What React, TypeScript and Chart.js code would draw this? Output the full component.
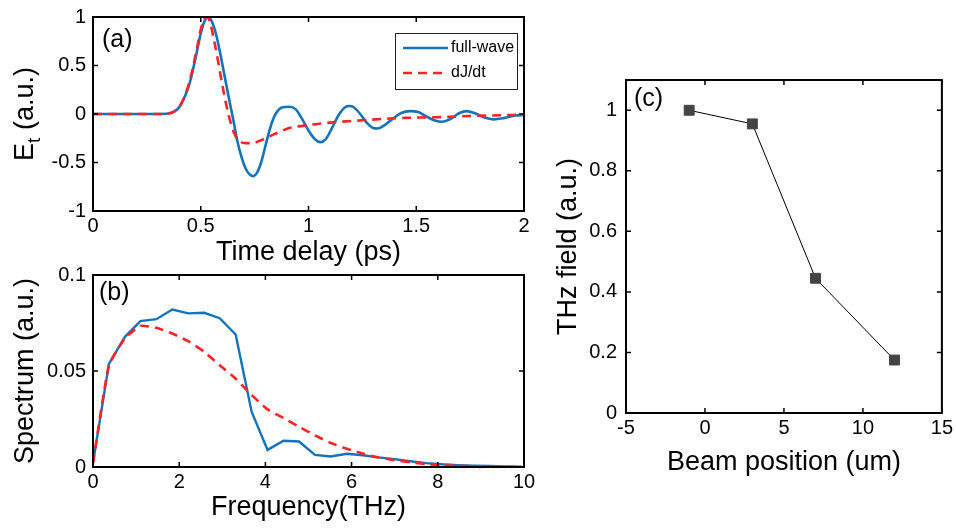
import React, { useEffect, useRef } from "react";
import { Chart, registerables } from "chart.js";

Chart.register(...registerables);

const FONT = "'Liberation Sans', Arial, Helvetica, sans-serif";
const BLUE = "#1373bd";
const RED = "#ff2424";
const TICK_FONT = 20;
const TITLE_FONT = 27;

// ---------- Panel (a): time-domain field ----------
const fullWaveT = [0, 0.1, 0.2, 0.3, 0.35, 0.38, 0.4, 0.43, 0.45, 0.48, 0.5, 0.52, 0.535, 0.55, 0.57, 0.59, 0.61, 0.63, 0.65, 0.67, 0.69, 0.71, 0.73, 0.745, 0.76, 0.78, 0.8, 0.82, 0.84, 0.86, 0.88, 0.91, 0.94, 0.97, 1.0, 1.03, 1.055, 1.08, 1.11, 1.14, 1.17, 1.19, 1.21, 1.24, 1.27, 1.3, 1.32, 1.35, 1.39, 1.43, 1.47, 1.51, 1.55, 1.59, 1.62, 1.66, 1.7, 1.735, 1.77, 1.81, 1.86, 1.91, 1.96, 2.0];
const fullWaveE = [0, 0, 0, 0, 0.005, 0.03, 0.07, 0.2, 0.33, 0.62, 0.83, 0.97, 1.0, 0.96, 0.83, 0.63, 0.4, 0.17, -0.05, -0.28, -0.45, -0.57, -0.63, -0.64, -0.61, -0.5, -0.33, -0.16, -0.03, 0.04, 0.07, 0.075, 0.05, -0.05, -0.17, -0.26, -0.29, -0.26, -0.14, -0.01, 0.07, 0.082, 0.07, 0.0, -0.09, -0.145, -0.15, -0.12, -0.05, 0.01, 0.03, 0.02, -0.03, -0.07, -0.08, -0.05, 0.01, 0.03, 0.01, -0.03, -0.055, -0.04, -0.015, -0.01];
const djdtT = [0, 0.1, 0.2, 0.3, 0.35, 0.38, 0.4, 0.43, 0.45, 0.48, 0.5, 0.52, 0.53, 0.545, 0.56, 0.58, 0.6, 0.62, 0.64, 0.66, 0.68, 0.71, 0.74, 0.78, 0.82, 0.87, 0.92, 0.98, 1.05, 1.15, 1.25, 1.35, 1.45, 1.55, 1.65, 1.75, 1.85, 1.95, 2.0];
const djdtE = [0, 0, 0, 0, 0.005, 0.03, 0.07, 0.21, 0.35, 0.65, 0.87, 0.99, 1.0, 0.93, 0.78, 0.55, 0.3, 0.08, -0.1, -0.22, -0.28, -0.3, -0.3, -0.27, -0.23, -0.18, -0.14, -0.12, -0.1, -0.08, -0.065, -0.05, -0.04, -0.035, -0.03, -0.02, -0.015, -0.01, -0.008];
const aXTicks = [0, 0.5, 1, 1.5, 2];
const aYTicks = [-1, -0.5, 0, 0.5, 1];

// ---------- Panel (b): spectrum ----------
const freqTHz = [0, 0.37, 0.74, 1.1, 1.47, 1.84, 2.21, 2.58, 2.94, 3.31, 3.68, 4.05, 4.42, 4.78, 5.15, 5.52, 5.89, 6.26, 6.62, 6.99, 7.36, 7.73, 8.1, 8.46, 8.83, 9.2, 9.57, 9.94];
const fullWaveSpec = [0.002, 0.0537, 0.0678, 0.076, 0.077, 0.082, 0.08, 0.0803, 0.0775, 0.069, 0.0288, 0.0089, 0.0137, 0.0133, 0.0063, 0.0055, 0.0069, 0.0061, 0.005, 0.0041, 0.003, 0.002, 0.0014, 0.001, 0.0007, 0.0005, 0.0003, 0.0002];
const djdtSpec = [0.002, 0.053, 0.067, 0.0735, 0.0725, 0.0695, 0.0655, 0.06, 0.053, 0.046, 0.0375, 0.03, 0.0255, 0.021, 0.0165, 0.0125, 0.0095, 0.007, 0.005, 0.0035, 0.0025, 0.0015, 0.001, 0.0006, 0.0004, 0.0002, 0.0001, 0.0];
const bXTicks = [0, 2, 4, 6, 8, 10];
const bYTicks = [0, 0.05, 0.1];

// ---------- Panel (c): THz field vs beam position ----------
const beamPos = [-1, 3, 7, 12];
const thzField = [1.0, 0.955, 0.445, 0.175];
const cXTicks = [-5, 0, 5, 10, 15];
const cYTicks = [0, 0.2, 0.4, 0.6, 0.8, 1];

const fmt = (v: number) => String(Math.round(v * 1000) / 1000);

function axis(o: {
  min: number; max: number; ticks: number[]; size: number; horizontal: boolean;
  labelPad: number; title?: string; titlePad?: number;
}) {
  return {
    type: "linear",
    min: o.min,
    max: o.max,
    grid: { display: false, drawTicks: false },
    border: { display: false },
    afterBuildTicks: (s: any) => {
      s.ticks = o.ticks.map((v) => ({ value: v }));
    },
    afterFit: (s: any) => {
      if (o.horizontal) s.height = o.size;
      else s.width = o.size;
    },
    ticks: {
      padding: o.labelPad,
      color: "#000",
      autoSkip: false,
      maxRotation: 0,
      includeBounds: false,
      font: { family: FONT, size: TICK_FONT },
      callback: (v: any) => fmt(Number(v)),
    },
    title: o.title
      ? {
          display: true,
          text: o.title,
          color: "#000",
          font: { family: FONT, size: TITLE_FONT },
          padding: o.horizontal ? { top: 0, bottom: o.titlePad } : { top: o.titlePad, bottom: 0 },
        }
      : { display: false },
  };
}

const framePlugin = (tickLen: number) => ({
  id: "frame",
  afterDatasetsDraw(chart: any) {
    const { ctx, chartArea, scales } = chart;
    const { left, right, top, bottom } = chartArea;
    ctx.save();
    ctx.strokeStyle = "#000";
    ctx.lineWidth = 2;
    ctx.setLineDash([]);
    ctx.strokeRect(left, top, right - left, bottom - top);
    ctx.beginPath();
    ctx.lineWidth = 1.5;
    scales.x.ticks.forEach((t: any) => {
      const px = scales.x.getPixelForValue(t.value);
      ctx.moveTo(px, bottom);
      ctx.lineTo(px, bottom - tickLen);
      ctx.moveTo(px, top);
      ctx.lineTo(px, top + tickLen);
    });
    scales.y.ticks.forEach((t: any) => {
      const py = scales.y.getPixelForValue(t.value);
      ctx.moveTo(left, py);
      ctx.lineTo(left + tickLen, py);
      ctx.moveTo(right, py);
      ctx.lineTo(right - tickLen, py);
    });
    ctx.stroke();
    ctx.restore();
  },
});

const panelLabel = (text: string, dx: number, dy: number) => ({
  id: "panelLabel",
  afterDraw(chart: any) {
    const { ctx, chartArea } = chart;
    ctx.save();
    ctx.fillStyle = "#000";
    ctx.font = `25px ${FONT}`;
    ctx.textBaseline = "alphabetic";
    ctx.textAlign = "left";
    ctx.fillText(text, chartArea.left + dx, chartArea.top + dy);
    ctx.restore();
  },
});

const legendPlugin = {
  id: "legendBox",
  afterDraw(chart: any) {
    const { ctx, chartArea } = chart;
    const bx = chartArea.right - 129;
    const by = chartArea.top + 16;
    const bw = 122;
    const bh = 56;
    ctx.save();
    ctx.fillStyle = "#fff";
    ctx.fillRect(bx, by, bw, bh);
    ctx.strokeStyle = "#222";
    ctx.lineWidth = 1;
    ctx.strokeRect(bx + 0.5, by + 0.5, bw, bh);
    const ds = [...chart.data.datasets].reverse();
    ds.forEach((d: any, i: number) => {
      const y = by + 15 + i * 25;
      ctx.strokeStyle = d.borderColor;
      ctx.lineWidth = 2.6;
      ctx.setLineDash(d.borderDash || []);
      ctx.beginPath();
      ctx.moveTo(bx + 8, y);
      ctx.lineTo(bx + 53, y);
      ctx.stroke();
      ctx.setLineDash([]);
      ctx.fillStyle = "#000";
      ctx.font = `16px ${FONT}`;
      ctx.textBaseline = "middle";
      ctx.textAlign = "left";
      ctx.fillText(d.label, bx + 56, y);
    });
    ctx.restore();
  },
};

const yTitleA = {
  id: "yTitleA",
  afterDraw(chart: any) {
    const { ctx, chartArea } = chart;
    const cy = (chartArea.top + chartArea.bottom) / 2;
    const parts: [string, string, number][] = [
      ["E", `${TITLE_FONT}px ${FONT}`, 0],
      ["t", `19px ${FONT}`, 7],
      [" (a.u.)", `${TITLE_FONT}px ${FONT}`, 0],
    ];
    ctx.save();
    ctx.translate(33, cy);
    ctx.rotate(-Math.PI / 2);
    ctx.fillStyle = "#000";
    ctx.textBaseline = "alphabetic";
    ctx.textAlign = "left";
    let total = 0;
    parts.forEach(([t, f]) => {
      ctx.font = f;
      total += ctx.measureText(t).width;
    });
    let x = -total / 2;
    parts.forEach(([t, f, dy]) => {
      ctx.font = f;
      ctx.fillText(t, x, dy);
      x += ctx.measureText(t).width;
    });
    ctx.restore();
  },
};

const baseOptions = (padding: any, scales: any) => ({
  responsive: false,
  animation: false,
  devicePixelRatio: 1,
  layout: { padding },
  plugins: { legend: { display: false }, tooltip: { enabled: false }, title: { display: false } },
  scales,
});

const DASH = [9, 6];

export default function App() {
  const refA = useRef<HTMLCanvasElement>(null);
  const refB = useRef<HTMLCanvasElement>(null);
  const refC = useRef<HTMLCanvasElement>(null);

  useEffect(() => {
    const charts: Chart[] = [];

    charts.push(
      new Chart(refA.current as HTMLCanvasElement, {
        type: "line",
        data: {
          datasets: [
            {
              label: "dJ/dt",
              data: djdtT.map((t, i) => ({ x: t, y: djdtE[i] })),
              borderColor: RED,
              borderWidth: 2.6,
              borderDash: DASH,
              pointRadius: 0,
              cubicInterpolationMode: "monotone",
              order: 0,
            },
            {
              label: "full-wave",
              data: fullWaveT.map((t, i) => ({ x: t, y: fullWaveE[i] })),
              borderColor: BLUE,
              borderWidth: 2.6,
              pointRadius: 0,
              cubicInterpolationMode: "monotone",
              order: 1,
            },
          ],
        },
        options: baseOptions({ top: 20, right: 16, left: 0, bottom: 0 }, {
          x: axis({ min: 0, max: 2, ticks: aXTicks, size: 59, horizontal: true, labelPad: 3, title: "Time delay (ps)", titlePad: 1 }),
          y: axis({ min: -1, max: 1, ticks: aYTicks, size: 93, horizontal: false, labelPad: 7 }),
        }) as any,
        plugins: [framePlugin(5), yTitleA, legendPlugin, panelLabel("(a)", 9, 30)],
      } as any)
    );

    charts.push(
      new Chart(refB.current as HTMLCanvasElement, {
        type: "line",
        data: {
          datasets: [
            {
              label: "dJ/dt",
              data: freqTHz.map((f, i) => ({ x: f, y: djdtSpec[i] })),
              borderColor: RED,
              borderWidth: 2.6,
              borderDash: DASH,
              pointRadius: 0,
              tension: 0.15,
              order: 0,
            },
            {
              label: "full-wave",
              data: freqTHz.map((f, i) => ({ x: f, y: fullWaveSpec[i] })),
              borderColor: BLUE,
              borderWidth: 2.4,
              pointRadius: 0,
              tension: 0,
              order: 1,
            },
          ],
        },
        options: baseOptions({ top: 20, right: 16, left: 0, bottom: 0 }, {
          x: axis({ min: 0, max: 10, ticks: bXTicks, size: 61, horizontal: true, labelPad: 3, title: "Frequency(THz)", titlePad: 3.8 }),
          y: axis({ min: 0, max: 0.1, ticks: bYTicks, size: 93, horizontal: false, labelPad: 7, title: "Spectrum (a.u.)", titlePad: 9.4 }),
        }) as any,
        plugins: [framePlugin(5), panelLabel("(b)", 6, 25)],
      } as any)
    );

    charts.push(
      new Chart(refC.current as HTMLCanvasElement, {
        type: "line",
        data: {
          datasets: [
            {
              label: "THz field",
              data: beamPos.map((p, i) => ({ x: p, y: thzField[i] })),
              borderColor: "#000",
              borderWidth: 1,
              tension: 0,
              pointStyle: "rect",
              pointRadius: 7,
              pointBorderWidth: 1,
              pointBackgroundColor: "#444",
              pointBorderColor: "#444",
            },
          ],
        },
        options: baseOptions({ top: 80, right: 12, left: 0, bottom: 0 }, {
          x: axis({ min: -5, max: 15, ticks: cXTicks, size: 115, horizontal: true, labelPad: 3, title: "Beam position (um)", titlePad: 48.8 }),
          y: axis({ min: 0, max: 1.1, ticks: cYTicks, size: 86, horizontal: false, labelPad: 9, title: "THz field (a.u.)", titlePad: 12 }),
        }) as any,
        plugins: [framePlugin(5), panelLabel("(c)", 8, 26)],
      } as any)
    );

    return () => charts.forEach((c) => c.destroy());
  }, []);

  return (
    <div style={{ position: "fixed", left: 0, top: 0, width: 956, height: 528, background: "#fff", overflow: "hidden" }}>
      <canvas ref={refA} width={540} height={273} style={{ position: "absolute", left: 0, top: -3, width: 540, height: 273 }} />
      <canvas ref={refB} width={540} height={273} style={{ position: "absolute", left: 0, top: 255, width: 540, height: 273 }} />
      <canvas ref={refC} width={416} height={528} style={{ position: "absolute", left: 540, top: 0, width: 416, height: 528 }} />
    </div>
  );
}
